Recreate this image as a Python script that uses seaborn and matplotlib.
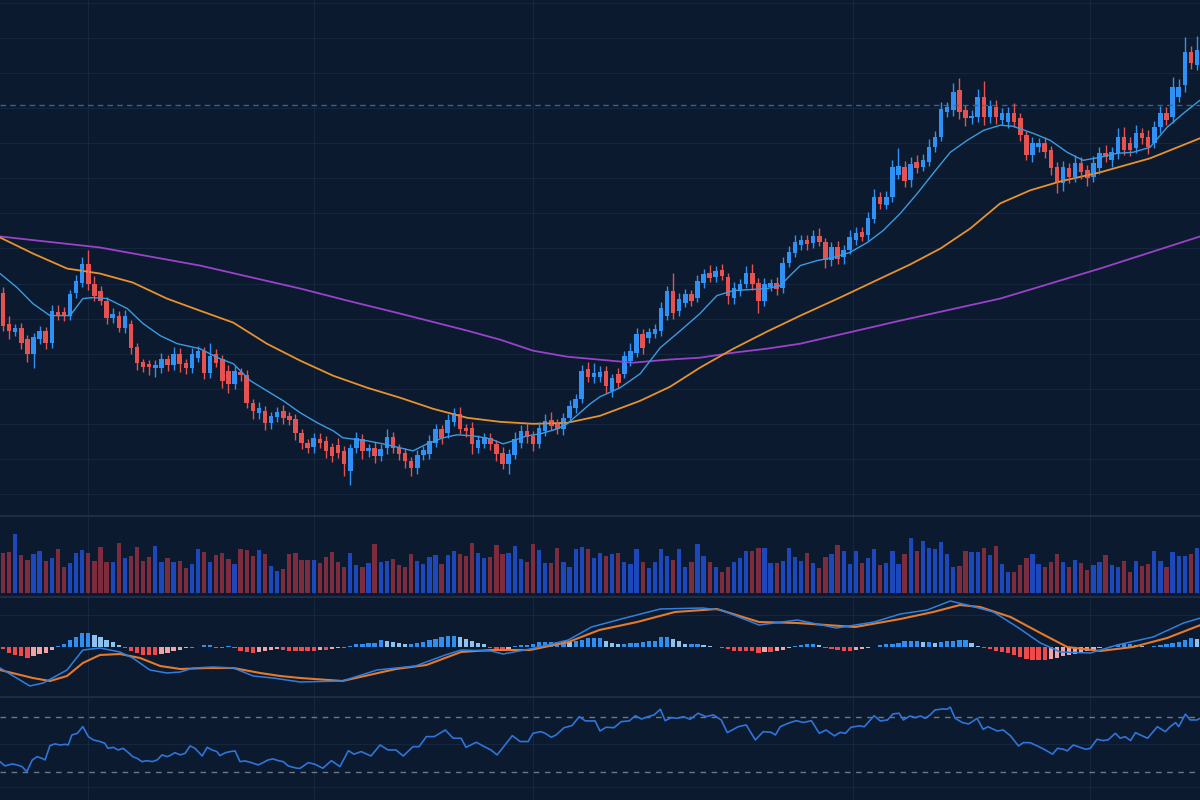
import numpy as np
import pandas as pd
import seaborn as sns
import matplotlib.pyplot as plt

# ---- candles (price units), one entry per bar ----
opens = [
    308, 277, 269, 273, 262, 247, 262, 270, 258, 289,
    289, 285, 308, 318, 337, 317, 310, 300, 283, 285,
    273, 277, 254, 239, 237, 233, 233, 242, 236, 247,
    238, 233, 243, 250, 228, 247, 242, 230, 217, 229,
    226, 198, 188, 190, 178, 184, 190, 185, 182, 168,
    158, 154, 162, 160, 154, 156, 150, 130, 153, 162,
    150, 153, 145, 153, 164, 153, 148, 140, 133, 146,
    147, 158, 172, 168, 179, 187, 173, 173, 153, 157,
    163, 157, 148, 137, 146, 158, 170, 165, 157, 170,
    181, 178, 172, 183, 193, 202, 232, 224, 224, 230,
    210, 227, 227, 240, 248, 267, 263, 267, 270, 285,
    310, 290, 298, 307, 303, 318, 328, 324, 331, 324,
    303, 310, 317, 328, 318, 300, 314, 318, 313, 338,
    347, 355, 360, 357, 364, 358, 341, 353, 343, 350,
    360, 368, 365, 381, 403, 395, 403, 425, 433, 420,
    438, 433, 438, 453, 463, 488, 490, 510, 490, 482,
    483, 503, 483, 493, 480, 478, 487, 482, 465, 445,
    453, 457, 450, 433, 417, 432, 423, 437, 430, 423,
    432, 447, 440, 447, 463, 457, 452, 467, 463, 457,
    473, 487, 483, 503, 515, 548, 535,
]
closes = [
    275, 270, 273, 258, 247, 264, 270, 258, 290, 285,
    285, 307, 320, 337, 317, 305, 300, 283, 287, 273,
    285, 253, 238, 234, 234, 236, 242, 236, 247, 237,
    233, 247, 250, 228, 245, 238, 220, 217, 230, 226,
    198, 190, 193, 178, 185, 189, 183, 181, 168, 158,
    153, 163, 158, 150, 145, 148, 137, 153, 163, 150,
    153, 145, 152, 164, 153, 147, 140, 133, 146, 151,
    160, 172, 163, 181, 188, 172, 170, 157, 161, 164,
    157, 147, 137, 147, 162, 170, 164, 157, 173, 180,
    175, 172, 183, 195, 202, 230, 224, 228, 229, 215,
    223, 218, 245, 250, 267, 253, 269, 272, 293, 310,
    288, 302, 307, 300, 320, 327, 323, 330, 325, 305,
    313, 317, 328, 317, 300, 317, 318, 312, 338, 348,
    358, 360, 356, 364, 358, 341, 353, 342, 350, 363,
    367, 363, 382, 403, 396, 403, 433, 434, 419, 436,
    432, 440, 453, 463, 491, 493, 508, 488, 482, 484,
    503, 483, 494, 483, 487, 487, 478, 465, 445, 457,
    457, 448, 432, 417, 433, 423, 437, 428, 422, 437,
    447, 443, 448, 463, 450, 450, 467, 462, 453, 473,
    487, 480, 513, 513, 548, 537, 550,
]
wick_up = [
    6, 8, 4, 5, 4, 4, 5, 4, 6, 7,
    5, 4, 6, 6, 13, 8, 5, 4, 6, 5,
    6, 4, 4, 3, 4, 5, 6, 4, 7, 6,
    4, 6, 5, 4, 13, 5, 4, 6, 5, 4,
    5, 4, 6, 5, 4, 5, 6, 4, 5, 4,
    4, 5, 6, 5, 4, 7, 5, 4, 6, 5,
    4, 6, 5, 8, 5, 4, 5, 4, 5, 4,
    6, 5, 4, 6, 5, 7, 4, 6, 5, 4,
    5, 4, 6, 5, 7, 6, 8, 5, 6, 7,
    8, 4, 5, 6, 5, 6, 7, 10, 6, 5,
    4, 6, 5, 8, 6, 5, 4, 5, 6, 5,
    18, 6, 5, 4, 6, 5, 8, 5, 6, 4,
    6, 5, 7, 9, 5, 6, 4, 6, 5, 6,
    7, 5, 5, 6, 8, 4, 5, 6, 5, 7,
    6, 5, 6, 8, 5, 6, 7, 18, 6, 7,
    7, 6, 8, 6, 7, 5, 9, 12, 5, 6,
    8, 16, 6, 7, 5, 6, 10, 5, 4, 6,
    5, 6, 4, 5, 6, 5, 8, 6, 5, 7,
    6, 8, 5, 9, 10, 6, 8, 5, 7, 6,
    7, 6, 10, 8, 15, 6, 14,
]
wick_dn = [
    5, 8, 4, 6, 8, 14, 5, 6, 5, 4,
    5, 4, 5, 4, 6, 5, 4, 6, 5, 4,
    5, 6, 7, 5, 8, 9, 5, 6, 5, 8,
    6, 5, 4, 6, 5, 4, 7, 9, 5, 6,
    5, 8, 6, 7, 6, 5, 6, 5, 7, 6,
    5, 6, 5, 7, 6, 5, 12, 14, 5, 8,
    6, 7, 5, 6, 5, 6, 7, 8, 6, 5,
    5, 4, 6, 5, 4, 5, 6, 10, 5, 4,
    6, 7, 5, 10, 4, 5, 6, 7, 4, 5,
    4, 5, 6, 4, 5, 4, 5, 6, 5, 7,
    6, 5, 4, 5, 4, 6, 5, 4, 5, 4,
    6, 5, 4, 5, 4, 5, 4, 5, 4, 8,
    6, 5, 4, 6, 12, 5, 4, 6, 5, 4,
    4, 5, 6, 5, 4, 8, 6, 5, 6, 4,
    5, 4, 6, 4, 5, 4, 5, 4, 6, 7,
    5, 4, 4, 5, 4, 5, 6, 7, 8, 6,
    5, 8, 6, 7, 5, 6, 5, 6, 5, 7,
    5, 6, 7, 10, 8, 6, 5, 7, 8, 5,
    6, 5, 7, 6, 5, 6, 5, 6, 7, 5,
    6, 5, 6, 5, 7, 6, 5,
]
volume = [
    40, 41, 59, 38, 33, 39, 42, 32, 35, 44, 26, 30, 40, 43, 40, 32, 46, 31, 31, 50,
    35, 37, 46, 32, 36, 47, 31, 35, 31, 32, 25, 29, 44, 41, 31, 38, 40, 34, 29, 44,
    43, 37, 43, 39, 27, 22, 24, 39, 40, 33,
    33, 33, 30, 36, 41, 31, 26, 40, 28, 26, 30, 49, 31, 32, 34, 28, 26, 39, 32, 29,
    36, 38, 29, 38, 42, 39, 37, 50, 40, 35, 36, 48, 39, 40, 47, 34, 31, 49, 43, 30,
    30, 45, 31, 26, 44, 46, 44, 35, 40, 37, 39, 40, 31, 29, 44, 31, 25, 31, 44, 37,
    33, 44, 26, 31, 49, 37, 31, 26, 21, 26, 31, 35, 42, 42, 45,
    45, 30, 30, 32, 45, 36, 32, 40, 30, 25, 36, 39, 48, 42, 29, 42, 30, 35, 44, 28,
    30, 42, 29, 39, 55, 42, 52, 45, 44, 51, 39, 26, 27, 42, 41, 41, 45, 38, 47, 29,
    21, 21, 28, 35, 39, 29, 26, 31, 39, 31, 26, 33, 30, 23, 28, 31, 38, 28, 26, 32,
    21, 32, 27, 29, 42, 32, 26, 41, 37, 37, 39, 45,
]

# ---- moving averages, read at bar positions ----
ma_fast_pos = [-0.5, 2.3, 4.9, 7.7, 11, 13.1, 14.8, 17.1, 20.4, 23, 25.8, 28.6, 32.3, 35.6,
               37.8, 40.6, 43.3, 46, 48.8, 51.6, 54.2, 55.8, 59.8, 62.4, 65.2, 67.3, 69.6,
               72.2, 74.5, 77.2, 80, 82.1, 83.7, 86, 88.2, 91, 92.6, 94.7, 96.4, 98, 101.3,
               104.6, 107.9, 111.2, 114.4, 117.2, 119.9, 122.7, 125.4, 127.6, 129.2, 130.9,
               133.7, 136.3, 139, 141.9, 144.5, 147.3, 150.1, 152.7, 155.5, 158.3, 161,
               163.7, 165.8, 169.1, 171.9, 174.7, 177.3, 180.1, 182.9, 185.5, 188.3, 191.1,
               193.8, 196.5]
ma_fast = [327, 313, 297, 285, 285, 302, 303, 302, 292, 277, 265, 257, 252, 242,
           237, 220, 210, 200, 188, 178, 170, 163, 160, 157, 153, 150, 157,
           163, 166, 165, 162, 157, 160, 165, 167, 172, 177, 188, 197, 204, 213,
           227, 253, 270, 287, 305, 310, 311, 312, 315, 325, 335,
           340, 343, 348, 358, 370, 387, 407, 427, 448, 460, 470,
           475, 474, 467, 460, 448, 440, 443, 447, 448, 453, 473,
           487, 500]
ma_mid_pos = [-0.5, 4.9, 10.5, 15.9, 21.3, 26.9, 32.3, 37.8, 43.3, 48.8, 54.2, 59.8, 65.2,
              70.6, 76.2, 81.6, 87, 92.6, 98, 104.6, 109.5, 114.4, 119.9, 125.4, 130.9,
              137.4, 144, 148.9, 153.9, 158.8, 163.7, 168.6, 173.6, 180.1, 188.3, 196.5]
ma_mid = [363, 347, 332, 327, 318, 302, 290, 278, 257, 240, 225, 213, 203,
          192, 183, 179, 177, 178, 185, 200, 214, 233, 252, 269, 285,
          303, 322, 336, 352, 372, 397, 410, 419, 428, 442, 462]
ma_slow_pos = [-0.5, 15.9, 32.3, 48.8, 56.5, 65.2, 76.2, 81.6, 87, 92.6, 98, 103.4, 109,
               114.4, 119.9, 125.4, 130.9, 147.3, 163.7, 180.1, 196.5]
ma_slow = [364, 353, 335, 312, 300, 287, 270, 261, 250, 244, 241, 238, 241,
           243, 248, 252, 257, 280, 302, 332, 364]
ref_level = 495

# ---- MACD ----
macd_pos = [-0.5, 4.4, 6.6, 10.5, 13.1, 15.9, 19.2, 21.3, 24.1, 26.9, 29.1, 31.2, 34.5, 37.8,
            41.1, 44.3, 48.8, 55.7, 61.4, 67.7, 72.6, 75.2, 80.1, 82.1, 86.5, 92.8, 96.6,
            102.1, 107.9, 114.8, 117.9, 124.1, 130.4, 136.8, 143.0, 147.3, 151.7, 155.5,
            158.3, 162.6, 166.5, 170.3, 173.6, 178.5, 182.9, 188.8, 193.8, 196.6]
macd = [-2.1, -3.9, -3.6, -2.3, -0.3, -0.1, -0.5, -1.1, -2.3, -2.6, -2.5, -2.1, -2.0, -2.1,
        -2.9, -3.1, -3.5, -3.4, -2.3, -1.9, -0.8, -0.3, -0.4, -0.7, -0.2, 0.7, 2.0,
        2.9, 3.8, 3.9, 3.7, 2.2, 2.7, 1.9, 2.5, 3.3, 3.7, 4.6,
        4.2, 3.5, 2.0, 0.4, -0.5, -0.6, 0.2, 1.0, 2.4, 2.9]
signal_pos = [-0.5, 4.9, 7.7, 10.5, 13.1, 15.9, 19.2, 22.5, 25.8, 29.1, 33.5, 37.8, 42.2,
              45.5, 48.8, 55.7, 64.5, 69.5, 75.2, 80.1, 86.5, 92.8, 97.9, 104.1, 110.3,
              117.2, 124.1, 130.4, 139.9, 147.3, 152.7, 157.1, 160.4, 165.4, 170.3, 174.7,
              180.1, 185.5, 191.1, 196.6]
signal = [-2.3, -3.1, -3.4, -2.9, -1.6, -0.8, -0.7, -1.1, -1.9, -2.2, -2.1, -2.1, -2.6,
          -2.9, -3.1, -3.4, -2.2, -1.8, -0.5, -0.3, -0.3, 0.5, 1.7, 2.5, 3.5,
          3.8, 2.5, 2.4, 2.0, 2.8, 3.5, 4.2, 4.0, 3.0, 1.4, 0.0,
          -0.4, 0.0, 0.9, 2.2]
hist = [
    -0.2, -0.6, -0.8, -0.9, -1.1, -0.9, -0.7, -0.6, -0.3, 0.13, 0.3, 0.7, 1.0, 1.4, 1.4,
    1.2, 1.0, 0.7, 0.5, 0.23, -0.13,
    -0.4, -0.6, -0.8, -0.8, -0.8, -0.7, -0.6, -0.4, -0.3, -0.1, -0.1, 0.05, 0.2, 0.2,
    -0.1, -0.1, 0.1, -0.1, -0.4, -0.5, -0.6, -0.5, -0.4, -0.3, -0.2, -0.3, -0.4, -0.4,
    -0.4, -0.4, -0.4, -0.3, -0.3, -0.2, -0.1, -0.1, 0.1, 0.3,
    0.3, 0.4, 0.4, 0.7, 0.6, 0.5, 0.4, 0.3, 0.3, 0.4,
    0.5, 0.7, 0.8, 1.0, 1.1, 1.1, 1.0, 0.8, 0.6, 0.4,
    0.3, -0.1, -0.3, -0.4, -0.2, 0.1, 0.2, 0.2, 0.3, 0.5,
    0.5, 0.5, 0.5, 0.6, 0.5, 0.6, 0.7, 0.9, 0.9, 0.9,
    0.6, 0.4, 0.3, 0.3, 0.4, 0.4, 0.5, 0.6, 0.6,
    1.0, 1.0, 0.8, 0.6, 0.3, 0.3, 0.3, 0.2, 0.1, 0.05,
    -0.1, -0.2, -0.4, -0.4, -0.4, -0.4, -0.6, -0.5, -0.5, -0.4,
    -0.3, -0.1, 0.1, 0.2, 0.3, 0.3, 0.2, -0.1, -0.2, -0.3,
    -0.4, -0.4, -0.3, -0.2, -0.1, 0.05, 0.2, 0.3, 0.3, 0.4,
    0.6, 0.6,
    0.6, 0.5, 0.5, 0.4, 0.5, 0.6, 0.6, 0.7, 0.7, 0.4,
    0.1, -0.1, -0.2, -0.4, -0.5, -0.6, -0.8, -1.0, -1.2, -1.3,
    -1.3, -1.3, -1.2, -1.1, -0.9, -0.8, -0.7, -0.5, -0.4, -0.3,
    -0.1, 0.05, 0.1, 0.2, 0.3, 0.3, 0.2, 0.1, 0.05, 0.1,
    0.2, 0.3, 0.4, 0.5, 0.7, 0.9, 0.8,
]

# ---- RSI ----
rsi_pos = [
    -0.5, 0.3, 1.5, 2.3, 3.1, 3.9, 4.8, 5.6, 6.4, 6.9, 7.7, 8.5, 9.4, 10.2, 10.7, 11.3,
    12.2, 13.1, 14.0, 14.8, 15.9, 16.7, 17.2, 18.1, 18.9, 19.7, 20.5, 21.3, 22.0, 22.8,
    23.6, 24.5, 25.3, 26.1, 26.9, 27.4, 28.2, 29.1, 29.9, 30.7, 31.5, 32.7, 33.5, 34.3,
    35.1, 35.6, 36.5, 37.3, 38.1, 38.9, 39.7, 40.6, 41.9, 42.7, 43.5, 44.3, 45.2, 46.0,
    46.8, 47.6, 48.4,
    48.8, 50.1, 51.2, 52.5, 53.9, 55.3, 56.7, 57.6, 58.8, 60.4, 61.9, 63.2, 64.5, 65.7,
    67.3, 68.3, 69.5, 70.8, 72.6, 73.9, 75.2, 76.0, 77.7, 79.0, 80.1, 81.1, 82.4, 83.6,
    84.9, 86.2, 87.0, 88.3, 89.0, 90.0, 90.8, 92.1, 93.4, 94.6, 95.6, 97.2, 98.0, 99.0,
    100.3, 101.5, 102.8, 103.8, 104.8, 105.9, 106.9, 107.9, 108.7, 109.7, 110.7, 111.7,
    112.8, 114.1, 115.4, 116.6, 117.9, 118.9, 119.7, 120.7, 122.0, 123.5, 124.8, 126.1,
    126.8, 127.6, 128.9, 130.2, 131.4, 132.7, 134.0, 135.1, 136.5, 137.4, 138.3, 139.2,
    140.6, 141.4, 143.0, 144.0, 145.2, 146.1, 147.1,
    147.8, 148.9, 149.8, 150.6, 151.4, 152.2, 153.0, 154.2, 155.0, 155.5, 156.3,
    157.5, 158.5, 159.3, 159.9, 160.9, 161.7, 163.2, 164.2, 165.4, 166.7, 167.5, 168.6,
    169.8, 170.8, 172.3, 173.1, 174.1, 174.7, 175.7, 176.8, 177.7, 178.5, 179.6, 180.6,
    181.4, 182.6, 183.4, 184.2, 185.1, 185.9, 186.7, 187.9, 189.5, 190.8, 191.6, 192.5,
    193.0, 194.1, 194.9, 196.0, 196.5,
]
rsi = [
    37.5, 34.4, 35.8, 35.1, 33.9, 30.2, 38.7, 41.1, 39.9, 38.7, 49.1, 50.4, 49.6, 50.1, 49.6,
    56.9, 58.1, 63.0, 55.7, 53.3, 52.1, 50.9, 47.2, 47.9, 46.0, 47.2, 44.3, 41.1, 39.9,
    37.5, 38.2, 37.5, 38.7, 42.4, 41.1, 41.9, 44.0, 42.4, 43.6, 48.9, 47.2, 41.6, 47.9,
    46.0, 44.8, 41.9, 44.0, 44.8, 45.3, 37.5, 38.0, 37.0, 35.1, 36.8, 38.7, 39.5, 38.2,
    37.5, 34.4, 33.4, 32.6,
    32.7, 36.8, 35.6, 32.7, 38.2, 33.9, 45.5, 42.9, 44.8, 41.6, 49.6, 46.0, 46.0, 41.6,
    48.4, 48.4, 55.7, 55.7, 60.5, 54.5, 54.5, 47.9, 51.6, 48.4, 46.0, 42.4, 49.6, 56.4,
    52.1, 52.1, 58.1, 59.3, 58.1, 55.2, 56.9, 62.2, 63.7, 70.2, 67.1, 67.1, 59.8, 62.5,
    62.2, 66.6, 67.1, 70.9, 68.5, 70.2, 71.5, 75.6, 67.3, 69.5, 69.0, 70.2, 68.3, 72.7,
    70.2, 71.5, 67.8, 58.6, 60.5, 62.9, 64.2, 53.3, 59.3, 58.8, 56.9, 62.9, 65.4, 67.3,
    65.9, 67.3, 58.1, 60.5, 56.2, 58.8, 58.1, 62.5, 63.5, 62.9, 70.9, 67.1, 67.8, 72.2,
    72.7,
    67.8, 70.7, 69.5, 70.7, 69.0, 71.5, 75.1, 75.8, 75.6, 77.1, 69.0, 65.9, 64.9, 67.1,
    69.0, 61.0, 62.9, 59.8, 60.5, 56.2, 48.9, 51.3, 51.3, 48.9, 46.7, 42.9, 47.2, 46.5,
    45.3, 49.6, 47.9, 46.5, 47.2, 53.8, 52.8, 53.3, 58.1, 54.5, 55.7, 52.8, 58.6, 56.9,
    54.5, 62.9, 59.3, 62.9, 65.9, 62.9, 72.0, 67.8, 67.8, 69.0,
]

# ---- style ----
BG = "#0b1a2e"
GRID = "#15273f"
SEP = "#1f3049"
UP = "#2f90f5"
DOWN = "#e6524f"
VOL_UP = "#1f4fd0"
VOL_DOWN = "#8e2f40"

sns.set_theme(style="dark", rc={"axes.facecolor": BG, "figure.facecolor": BG,
                                "savefig.facecolor": BG})

df = pd.DataFrame({"open": opens, "close": closes, "up_w": wick_up,
                   "dn_w": wick_dn, "vol": volume, "hist": hist})
df["bar"] = np.arange(len(df))
df["top"] = df[["open", "close"]].max(axis=1)
df["bot"] = df[["open", "close"]].min(axis=1)
rising = df["close"] >= df["open"]
cndl_col = np.where(rising, UP, DOWN)
vol_col = np.where(rising, VOL_UP, VOL_DOWN)

prev = df["hist"].shift(1).fillna(0)
hist_col = np.where(df["hist"] >= 0,
                    np.where(df["hist"] >= prev, "#2f8ef0", "#8fc3ef"),
                    np.where(df["hist"] <= prev, "#f04a4a", "#f2a3a3"))

fig = plt.figure(figsize=(12, 8), dpi=100)
ax_p = fig.add_axes([0, 0.355, 1, 0.645])
ax_v = fig.add_axes([0, 0.25625, 1, 0.09875])
ax_m = fig.add_axes([0, 0.12875, 1, 0.125])
ax_r = fig.add_axes([0, 0, 1, 0.12875])

xlim = (-0.5, len(df) - 0.5)
vgrid = [14, 51, 87, 139.5, 178.5]
for ax in (ax_p, ax_v, ax_m, ax_r):
    ax.set_xlim(*xlim)
    ax.set_xticks(vgrid)
    ax.tick_params(length=0, labelleft=False, labelbottom=False)
    ax.xaxis.grid(True, color=GRID, lw=0.8)
    for s in ax.spines.values():
        s.set_visible(False)

# price panel
ax_p.set_ylim(85, 600)
ax_p.set_yticks(np.arange(597, 85, -35))
ax_p.yaxis.grid(True, color=GRID, lw=0.8)
ax_p.axhline(ref_level, color="#33629a", lw=1, ls=(0, (4, 3)))
sns.lineplot(x=ma_slow_pos, y=ma_slow, ax=ax_p, color="#9a42c9", lw=1.3,
             sort=False, estimator=None)
sns.lineplot(x=ma_mid_pos, y=ma_mid, ax=ax_p, color="#e8922e", lw=1.3,
             sort=False, estimator=None)
ax_p.vlines(df["bar"], df["bot"] - df["dn_w"], df["top"] + df["up_w"],
            colors=cndl_col, lw=1.0)
ax_p.bar(df["bar"], (df["top"] - df["bot"]).clip(lower=1.5), bottom=df["bot"],
         width=0.74, color=cndl_col, linewidth=0)
sns.lineplot(x=ma_fast_pos, y=ma_fast, ax=ax_p, color="#3b9be2", lw=1.0,
             sort=False, estimator=None)

# volume panel
ax_v.set_ylim(-2, 77)
ax_v.bar(df["bar"], df["vol"], width=0.7, color=vol_col, alpha=0.88, linewidth=0)
ax_v.spines["top"].set_visible(True)
ax_v.spines["top"].set_color(SEP)

# MACD panel
ax_m.set_ylim(-5, 5)
ax_m.set_yticks([3.2])
ax_m.yaxis.grid(True, color=GRID, lw=0.8)
ax_m.bar(df["bar"], df["hist"], width=0.7, color=hist_col, linewidth=0)
sns.lineplot(x=signal_pos, y=signal, ax=ax_m, color="#e5792c", lw=1.5,
             sort=False, estimator=None)
sns.lineplot(x=macd_pos, y=macd, ax=ax_m, color="#2f7fe0", lw=1.1,
             sort=False, estimator=None)
ax_m.spines["top"].set_visible(True)
ax_m.spines["top"].set_color(SEP)

# RSI panel
ax_r.set_ylim(9.6, 84.5)
ax_r.set_yticks([50, 19])
ax_r.yaxis.grid(True, color=GRID, lw=0.8)
for lvl in (70, 30):
    ax_r.axhline(lvl, color="#6c7789", lw=1, ls=(0, (4, 4)))
sns.lineplot(x=rsi_pos, y=rsi, ax=ax_r, color="#2f74da", lw=1.2,
             sort=False, estimator=None)
ax_r.spines["top"].set_visible(True)
ax_r.spines["top"].set_color(SEP)
ax_r.spines["top"].set_linewidth(1.2)

for ax in (ax_p, ax_v, ax_m, ax_r):
    ax.set_xlim(*xlim)
    ax.set_xlabel("")
    ax.set_ylabel("")

fig.savefig("out.png", dpi=100)
